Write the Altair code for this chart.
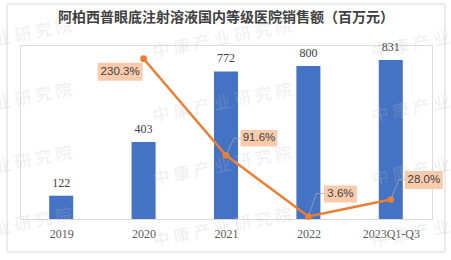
import altair as alt
import pandas as pd

# ---- data ----
categories = ["2019", "2020", "2021", "2022", "2023Q1-Q3"]
sales = [122, 403, 772, 800, 831]
growth_categories = ["2020", "2021", "2022", "2023Q1-Q3"]
growth = [230.3, 91.6, 3.6, 28.0]
growth_labels = ["230.3%", "91.6%", "3.6%", "28.0%"]
title_text = "阿柏西普眼底注射溶液国内等级医院销售额（百万元）"
watermark_text = " ".join("中康产业研究院")

# ---- styles (label box placement relative to its point, in pixels) ----
label_style = [
    dict(dx=-23.5, dy=13, w=45, h=18, leader=False, ex=0, ey=0),
    dict(dx=33, dy=-17, w=37, h=16.5, leader=True, ex=8, ey=-17),
    dict(dx=32, dy=-22.5, w=33, h=17, leader=True, ex=8, ey=-23),
    dict(dx=33, dy=-19.5, w=38, h=18, leader=True, ex=8, ey=-20),
]
wm_cols = [-87, 133, 352]
wm_rows = [8, 72, 135, 197]

BLUE = "#4472C4"
ORANGE = "#ED7D31"
PEACH = "#F8CBAD"

bars_df = pd.DataFrame({"cat": categories, "sales": sales})
growth_df = pd.DataFrame({"cat": growth_categories, "growth": growth, "label": growth_labels})
one_row = pd.DataFrame({"k": [0]})
wm_df = pd.DataFrame(
    [{"wx": wx, "wy": wy, "t": watermark_text} for wy in wm_rows for wx in wm_cols]
)

x_scale = alt.Scale(type="point", domain=categories, padding=0.5)
x_axis = alt.Axis(
    title=None, labelAngle=0, labelFont="Liberation Serif", labelFontSize=12,
    labelColor="#595959", labelPadding=9, ticks=False, domainColor="#D9D9D9",
    domainWidth=1, grid=False,
)


def X():
    return alt.X("cat:N", scale=x_scale, axis=x_axis)


y_sales = alt.Y("sales:Q", scale=alt.Scale(domain=[0, 910], nice=False), axis=None)


def Yg():
    return alt.Y("growth:Q", scale=alt.Scale(domain=[0, 250], nice=False), axis=None)


border = alt.Chart(one_row).mark_rect(
    fillOpacity=0, stroke="#D9D9D9", strokeWidth=1
).encode(
    x=alt.value(-13), x2=alt.value(425), y=alt.value(-41), y2=alt.value(207)
)

title = alt.Chart(one_row).mark_text(
    text=title_text, align="center", baseline="middle", font="Noto Sans CJK SC",
    fontSize=14, fontWeight="bold", color="#404040",
).encode(x=alt.value(206), y=alt.value(-27))

bars = alt.Chart(bars_df).mark_bar(size=24, color=BLUE).encode(x=X(), y=y_sales)
bar_text = alt.Chart(bars_df).mark_text(
    baseline="alphabetic", dy=-9, font="Liberation Serif", fontSize=12, color="#404040"
).encode(x=X(), y=y_sales, text=alt.Text("sales:Q"))

# watermark: its own top-level layer with pixel positions (no scales)
watermark = alt.Chart(wm_df).mark_text(
    align="left", baseline="middle", angle=349,
    font="Noto Sans CJK SC", fontSize=17, color="#BFBFBF", opacity=0.25,
).encode(
    x=alt.X("wx:Q", scale=None, axis=None),
    y=alt.Y("wy:Q", scale=None, axis=None),
    text="t:N",
)

left_group = alt.layer(border, title, bars, bar_text)

line = alt.Chart(growth_df).mark_line(color=ORANGE, strokeWidth=2.5).encode(x=X(), y=Yg())
pts = alt.Chart(growth_df).mark_point(
    filled=True, size=45, color=ORANGE, opacity=1
).encode(x=X(), y=Yg())

label_layers = []
for cat, st in zip(growth_categories, label_style):
    base = alt.Chart(growth_df).transform_filter(alt.datum.cat == cat)
    if st["leader"]:
        label_layers.append(
            base.mark_rule(color="#A6A6A6", strokeWidth=0.8, x2Offset=st["ex"], y2Offset=st["ey"]).encode(
                x=X(), y=Yg(), x2=alt.X2("cat:N"), y2=alt.Y2("growth:Q")
            )
        )
        label_layers.append(
            base.mark_rule(color="#A6A6A6", strokeWidth=0.8, xOffset=st["ex"], yOffset=st["ey"],
                           x2Offset=st["dx"], y2Offset=st["ey"]).encode(
                x=X(), y=Yg(), x2=alt.X2("cat:N"), y2=alt.Y2("growth:Q")
            )
        )
    r = st["h"] / st["w"]
    shape = f"M-1,-{r:.4f}H1V{r:.4f}H-1Z"
    label_layers.append(
        base.mark_point(shape=shape, size=st["w"] ** 2, filled=True, color=PEACH, opacity=1,
                        strokeWidth=0, xOffset=st["dx"], yOffset=st["dy"]).encode(x=X(), y=Yg())
    )
    label_layers.append(
        base.mark_text(dx=st["dx"], dy=st["dy"], align="center", baseline="middle",
                       font="Liberation Sans", fontSize=11.5, color="#404040").encode(
            x=X(), y=Yg(), text=alt.Text("label:N")
        )
    )

right_group = alt.layer(line, pts, *label_layers)

chart = alt.layer(left_group, right_group, watermark).resolve_scale(y="independent").properties(
    width=412,
    height=174,
    padding={"left": 20, "top": 45, "right": 19, "bottom": 41},
    autosize=alt.AutoSizeParams(type="none"),
).configure_view(strokeWidth=0).configure(background="white")

chart.save("out.html", embed_options={"renderer": "svg", "actions": False})
